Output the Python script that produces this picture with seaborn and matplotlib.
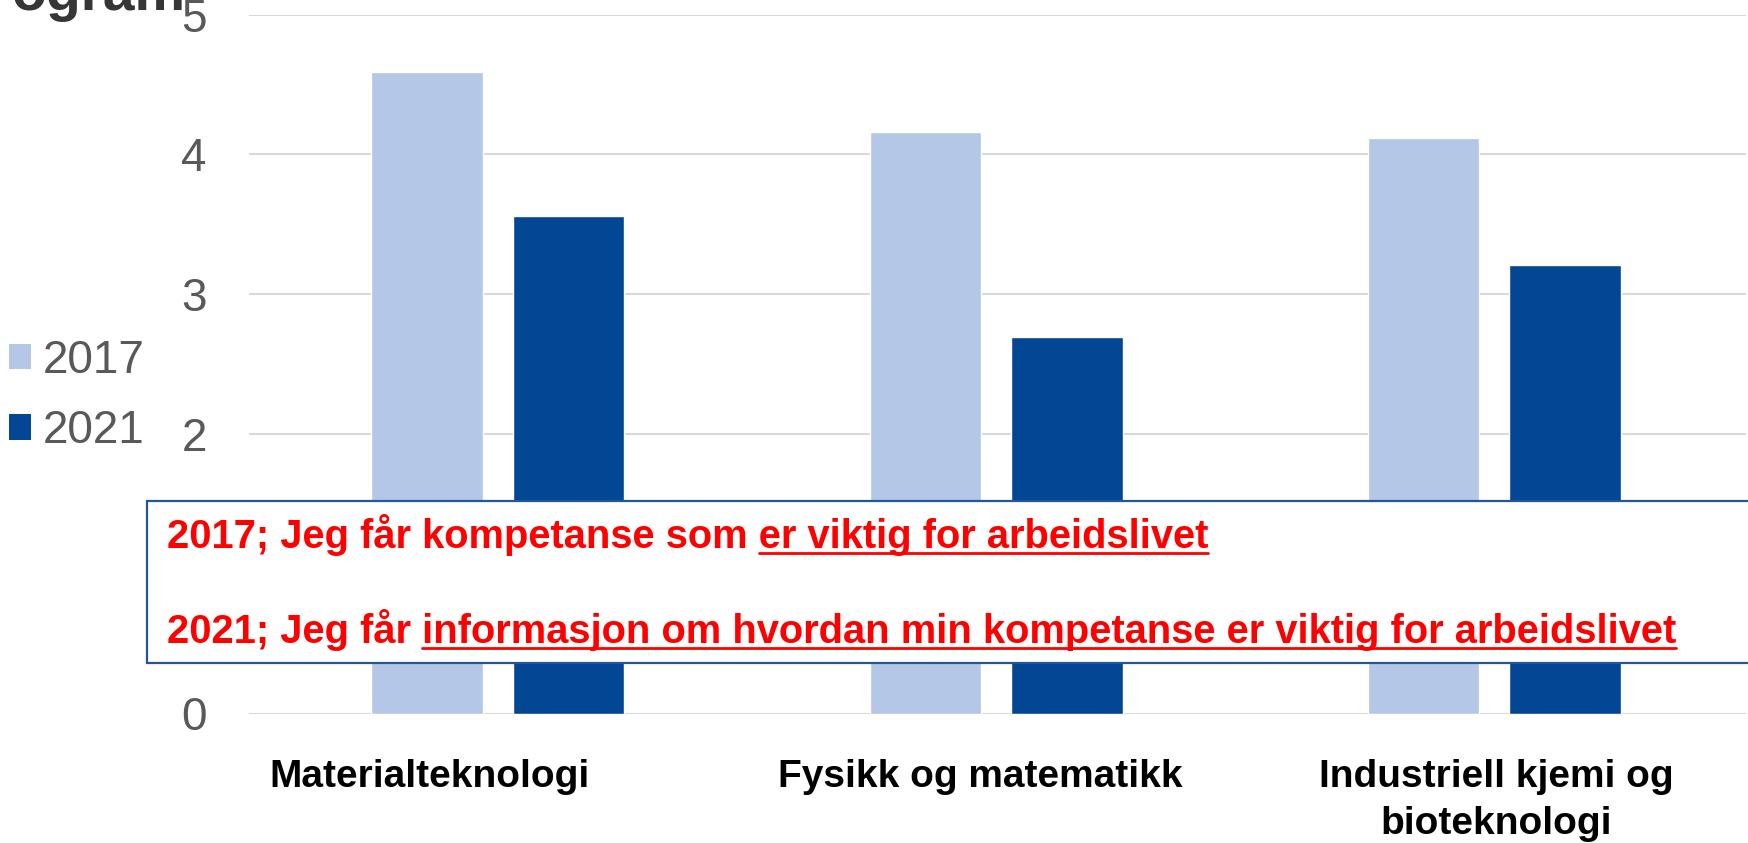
import numpy as np
import pandas as pd
import matplotlib
matplotlib.use("Agg")
import matplotlib.pyplot as plt
import seaborn as sns
from matplotlib.patches import Patch, Rectangle
from matplotlib.lines import Line2D
from matplotlib.transforms import IdentityTransform, ScaledTranslation

# ---------------- data ----------------
categories = ["Materialteknologi", "Fysikk og matematikk", "Industriell kjemi og\nbioteknologi"]
years = ["2017", "2021"]
values_2017 = [4.59, 4.16, 4.12]
values_2021 = [3.56, 2.69, 3.21]
yticks = [0, 1, 2, 3, 4, 5]
title_text = "ogram"
note_prefix = ["2017; Jeg får kompetanse som ", "2021; Jeg får "]
note_underlined = ["er viktig for arbeidslivet",
                   "informasjon om hvordan min kompetanse er viktig for arbeidslivet"]
colors = {"2017": "#B4C7E7", "2021": "#034694"}

df = pd.DataFrame({
    "Studieprogram": categories * 2,
    "År": [years[0]] * len(categories) + [years[1]] * len(categories),
    "Verdi": values_2017 + values_2021,
})

# ---------------- style ----------------
sns.set_theme(style="white")
plt.rcParams["font.family"] = ["Liberation Sans", "DejaVu Sans"]

W, H, DPI = 1748, 843, 100
fig = plt.figure(figsize=(W / DPI, H / DPI), dpi=DPI)
fig.patch.set_facecolor("white")

ax_left, ax_right, ax_top, ax_bottom = 248.6, 1746, 14.5, 713.5
ax = fig.add_axes([ax_left / W, 1 - ax_bottom / H, (ax_right - ax_left) / W, (ax_bottom - ax_top) / H])

sns.barplot(data=df, x="Studieprogram", y="Verdi", hue="År", palette=colors,
            width=0.5675, gap=0.212, saturation=1, errorbar=None, legend=False,
            ax=ax, zorder=3)

ax.set_xlim(-0.5, 2.5 + (1746 - 1743.6) / 498)
ax.set_ylim(0, 5)
ax.set_yticks(yticks)
ax.set_yticklabels([str(t) for t in yticks])
ax.set_xlabel("")
ax.set_ylabel("")
ax.set_axisbelow(True)
ax.yaxis.grid(True, color="#D9D9D9", linewidth=1.5)
ax.xaxis.grid(False)
for s in ax.spines.values():
    s.set_visible(False)
ax.tick_params(axis="y", length=0, pad=30, labelsize=33, labelcolor="#595959")
ax.tick_params(axis="x", length=0, pad=33, labelsize=28, labelcolor="black")
label_shift_px = [-68, -16, 2]
for lab, dx in zip(ax.get_xticklabels(), label_shift_px):
    lab.set_fontweight("bold")
    lab.set_linespacing(1.38)
    lab.set_transform(lab.get_transform() + ScaledTranslation(dx / DPI, 0, fig.dpi_scale_trans))

# ---------------- legend ----------------
handles = [Patch(facecolor=colors[y], edgecolor="none", label=y) for y in years]
fig.legend(handles=handles, loc="center left", bbox_to_anchor=(9 / W, 1 - 396 / H),
           frameon=False, fontsize=33, handlelength=0.48, handleheight=0.48,
           handletextpad=0.26, labelspacing=0.58, borderpad=0, borderaxespad=0,
           labelcolor="#595959")

# ---------------- title fragment ----------------
fig.text(12, H - 10, title_text, fontsize=41, fontweight="bold", color="#363636",
         va="baseline", ha="left", transform=IdentityTransform())

# ---------------- annotation box ----------------
box_left, box_top, box_bottom = 147, 500.5, 663
rect = Rectangle((box_left, H - box_bottom), W - box_left + 20, box_bottom - box_top,
                 transform=IdentityTransform(), facecolor="white",
                 edgecolor="#2456A0", linewidth=1.6, zorder=10)
fig.add_artist(rect)

fig.canvas.draw()
renderer = fig.canvas.get_renderer()

# fit font size to target width of the long line
probe = fig.text(0, 0, note_prefix[1] + note_underlined[1], fontsize=28, fontweight="bold",
                 transform=IdentityTransform())
w_probe = probe.get_window_extent(renderer).width
probe.remove()
fs = 28 * 1511 / w_probe

x0 = 167
baselines = [548, 643]
for pre, und, bl in zip(note_prefix, note_underlined, baselines):
    t = fig.text(x0, H - bl, pre + und, fontsize=fs, fontweight="bold", color="#FF0000",
                 va="baseline", ha="left", transform=IdentityTransform(), zorder=11)
    ext_full = t.get_window_extent(renderer)
    tu = fig.text(0, 0, und, fontsize=fs, fontweight="bold", transform=IdentityTransform())
    w_u = tu.get_window_extent(renderer).width
    tu.remove()
    xe = ext_full.x1
    xs = xe - w_u
    fig.add_artist(Line2D([xs, xe], [H - bl - 5, H - bl - 5], transform=IdentityTransform(),
                          color="#FF0000", linewidth=2.0, zorder=11))

fig.savefig("out.png", dpi=DPI)
